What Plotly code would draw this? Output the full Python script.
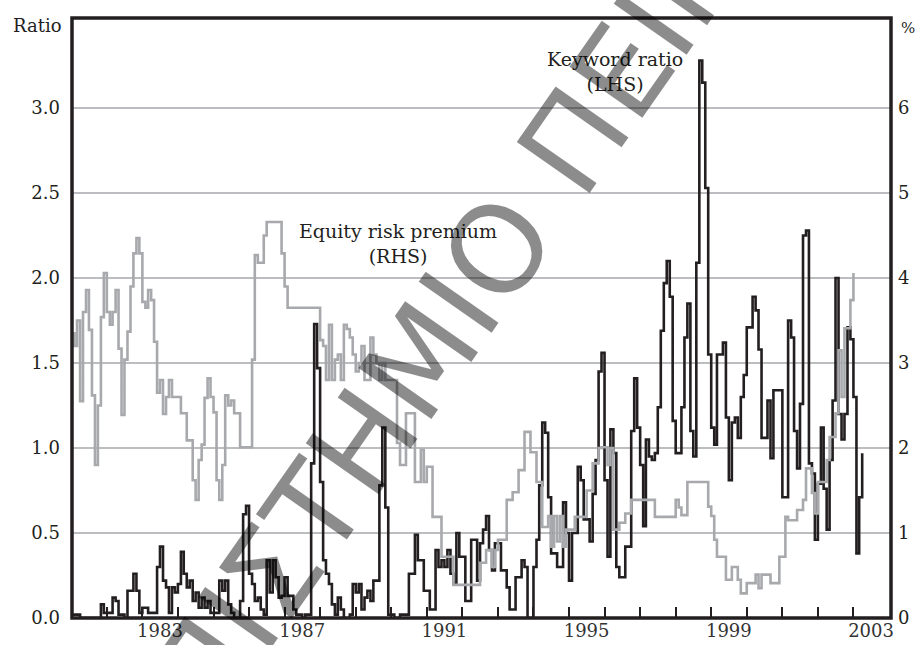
import pandas as pd
import plotly.graph_objects as go

# ---------------- data (monthly) ----------------
# Keyword ratio (LHS), Jan 1981 onwards
keyword_ratio = [
    0.02, 0.02, 0.02, 0.00, 0.00, 0.00, 0.00, 0.00, 0.00, 0.00, 0.08, 0.03,   # 1981
    0.03, 0.03, 0.12, 0.10, 0.02, 0.02, 0.00, 0.16, 0.16, 0.26, 0.16, 0.03,   # 1982
    0.06, 0.06, 0.03, 0.03, 0.03, 0.30, 0.42, 0.22, 0.18, 0.03, 0.18, 0.15,   # 1983
    0.20, 0.39, 0.26, 0.18, 0.22, 0.10, 0.15, 0.06, 0.12, 0.06, 0.10, 0.03,   # 1984
    0.03, 0.03, 0.22, 0.16, 0.22, 0.08, 0.03, 0.00, 0.00, 0.10, 0.61, 0.66,   # 1985
    0.26, 0.20, 0.10, 0.12, 0.05, 0.02, 0.34, 0.15, 0.34, 0.24, 0.12, 0.13,   # 1986
    0.24, 0.13, 0.13, 0.05, 0.02, 0.02, 0.00, 0.02, 0.02, 0.91, 1.73, 1.47,   # 1987
    0.80, 0.34, 0.26, 0.20, 0.08, 0.02, 0.12, 0.05, 0.00, 0.00, 0.02, 0.20,   # 1988
    0.15, 0.20, 0.05, 0.12, 0.16, 0.10, 0.22, 0.22, 0.78, 1.12, 0.65, 0.02,   # 1989
    0.02, 0.00, 0.00, 0.02, 0.02, 0.02, 0.26, 0.26, 0.49, 0.34, 0.34, 0.16,   # 1990
    0.16, 0.05, 0.05, 0.40, 0.30, 0.34, 0.30, 0.40, 0.26, 0.20, 0.50, 0.36,   # 1991
    0.36, 0.10, 0.10, 0.46, 0.46, 0.22, 0.44, 0.52, 0.60, 0.40, 0.28, 0.44,   # 1992
    0.44, 0.28, 0.28, 0.18, 0.05, 0.05, 0.24, 0.24, 0.34, 0.30, 0.00, 0.00,   # 1993
    0.30, 0.46, 0.78, 1.15, 1.09, 0.71, 0.38, 0.38, 0.30, 0.30, 0.68, 0.50,   # 1994
    0.22, 0.50, 0.50, 0.89, 0.81, 0.58, 0.58, 0.45, 0.73, 0.93, 1.45, 1.56,   # 1995
    0.81, 0.36, 1.11, 0.97, 0.30, 0.24, 0.24, 0.42, 0.42, 1.10, 1.41, 1.12,   # 1996
    0.90, 0.54, 1.05, 0.95, 0.93, 0.97, 1.24, 1.69, 1.97, 2.10, 1.89, 1.16,   # 1997
    0.97, 0.97, 1.24, 1.65, 1.85, 1.10, 0.95, 2.09, 3.28, 3.15, 2.53, 1.55,   # 1998
    1.12, 1.02, 1.55, 1.55, 1.62, 1.18, 0.81, 1.15, 1.18, 1.06, 1.30, 1.43,   # 1999
    1.71, 1.71, 1.89, 1.81, 1.58, 1.06, 1.06, 1.28, 0.94, 1.34, 1.34, 1.34,   # 2000
    0.71, 0.71, 1.75, 1.65, 1.10, 0.88, 1.26, 2.25, 2.28, 0.91, 0.85, 0.46,   # 2001
    0.79, 1.12, 0.76, 0.52, 0.93, 1.28, 2.00, 1.20, 1.05, 1.20, 1.71, 1.64,   # 2002
    1.30, 0.38, 0.71, 0.97,                                                   # 2003
]

# Equity risk premium (RHS, %), Jan 1981 onwards
equity_risk_premium = [
    3.35, 3.20, 3.50, 2.55, 3.60, 3.86, 3.39, 2.62, 1.80, 2.50, 3.54, 4.06,   # 1981
    3.60, 3.45, 3.60, 3.86, 3.17, 2.39, 3.04, 3.37, 3.90, 4.29, 4.47, 4.29,   # 1982
    3.72, 3.65, 3.86, 3.74, 3.25, 2.65, 2.80, 2.40, 2.60, 2.80, 2.60, 2.60,   # 1983
    2.60, 2.41, 2.41, 2.09, 2.09, 1.62, 1.39, 1.86, 2.04, 2.59, 2.82, 2.60,   # 1984
    2.42, 1.62, 1.39, 1.80, 2.62, 2.50, 2.56, 2.41, 2.41, 2.01, 2.01, 2.01,   # 1985
    2.01, 3.04, 4.27, 4.18, 4.18, 4.50, 4.66, 4.66, 4.66, 4.66, 4.66, 4.29,   # 1986
    3.90, 3.65, 3.65, 3.65, 3.65, 3.65, 3.65, 3.65, 3.65, 3.65, 3.65, 3.65,   # 1987
    3.27, 3.20, 2.80, 3.45, 2.80, 3.04, 3.10, 2.80, 3.45, 3.40, 3.30, 3.10,   # 1988
    2.90, 3.00, 3.20, 2.80, 2.80, 3.30, 3.10, 3.00, 2.80, 3.00, 2.80, 2.80,   # 1989
    2.80, 2.80, 2.06, 1.80, 1.80, 2.41, 2.41, 2.41, 1.60, 1.60, 1.98, 1.60,   # 1990
    1.78, 1.78, 1.19, 1.19, 1.19, 0.72, 0.72, 0.72, 0.72, 0.39, 0.39, 0.39,   # 1991
    0.39, 0.39, 0.39, 0.39, 0.39, 0.39, 0.65, 0.65, 0.80, 0.80, 0.60, 0.80,   # 1992
    0.92, 0.92, 0.92, 1.39, 1.39, 1.48, 1.48, 1.74, 1.74, 2.19, 2.19, 1.95,   # 1993
    1.95, 1.60, 1.60, 1.07, 1.07, 1.20, 0.84, 1.20, 0.90, 1.20, 0.84, 1.04,   # 1994
    1.04, 1.04, 1.19, 1.19, 1.19, 1.19, 1.50, 1.50, 1.82, 1.82, 2.00, 2.01,   # 1995
    2.01, 1.80, 2.00, 1.04, 1.04, 1.12, 1.12, 1.23, 1.23, 1.39, 1.39, 1.39,   # 1996
    1.39, 1.39, 1.39, 1.39, 1.39, 1.19, 1.19, 1.19, 1.19, 1.19, 1.19, 1.19,   # 1997
    1.39, 1.30, 1.21, 1.21, 1.60, 1.60, 1.60, 1.60, 1.60, 1.60, 1.60, 1.31,   # 1998
    1.20, 0.92, 0.72, 0.72, 0.72, 0.45, 0.45, 0.60, 0.60, 0.45, 0.29, 0.29,   # 1999
    0.41, 0.41, 0.41, 0.51, 0.35, 0.51, 0.51, 0.51, 0.41, 0.41, 0.41, 0.72,   # 2000
    0.72, 1.19, 1.15, 1.15, 1.15, 1.27, 1.27, 1.39, 1.76, 1.76, 1.47, 1.23,   # 2001
    1.60, 1.60, 1.60, 1.86, 2.13, 2.13, 2.41, 3.15, 2.60, 3.41, 3.41, 3.74,   # 2002
    4.06,                                                                     # 2003
]

start_month = "1981-01-01"
tick_years = list(range(1982, 2004))
label_years = [1983, 1987, 1991, 1995, 1999, 2003]
left_ticks = [0.0, 0.5, 1.0, 1.5, 2.0, 2.5, 3.0]
right_ticks = [0, 1, 2, 3, 4, 5, 6]

kw_dates = pd.date_range(start_month, periods=len(keyword_ratio), freq="MS")
eq_dates = pd.date_range(start_month, periods=len(equity_risk_premium), freq="MS")

INK = "#231f20"
GREY = "#a7a9ac"
FONT = "DejaVu Serif"
XR = ["1981-01-08", "2004-01-22"]

# plot-area geometry in pixels (for placing text in paper coordinates)
W, H = 917, 645
L, R, T, B = 72, 26, 18, 27
PW, PH = W - L - R, H - T - B


def px(x):
    return (x - L) / PW


def py(y):
    return (H - B - y) / PH


fig = go.Figure()
fig.add_trace(go.Scatter(
    x=kw_dates, y=keyword_ratio, mode="lines", name="Keyword ratio (LHS)",
    line=dict(color=INK, width=2.6, shape="hv"), xaxis="x", yaxis="y",
))
fig.add_trace(go.Scatter(
    x=eq_dates, y=equity_risk_premium, mode="lines", name="Equity risk premium (RHS)",
    line=dict(color=GREY, width=2.6, shape="hv"), xaxis="x2", yaxis="y2",
))

fig.update_layout(
    width=W, height=H,
    margin=dict(l=L, r=R, t=T, b=B, autoexpand=False),
    paper_bgcolor="white", plot_bgcolor="white",
    showlegend=False,
    font=dict(family=FONT, size=18, color=INK),
    xaxis=dict(
        type="date", range=XR, automargin=False,
        tickvals=[f"{y}-01-01" for y in tick_years],
        ticktext=["" for _ in tick_years],
        ticks="inside", ticklen=11, tickwidth=2, tickcolor=INK,
        showgrid=False, zeroline=False, showline=False,
    ),
    xaxis2=dict(
        type="date", range=XR, overlaying="x", matches="x", anchor="y",
        automargin=False,
        tickvals=[f"{y}-07-01" for y in label_years],
        ticktext=[str(y) for y in label_years],
        ticks="", showgrid=False, zeroline=False, showline=False,
        tickfont=dict(family=FONT, size=18, color="#333333"),
    ),
    yaxis=dict(
        range=[0, 3.53], automargin=False,
        tickvals=left_ticks, ticktext=[f"{v:.1f}" for v in left_ticks],
        ticks="", ticklabelstandoff=11,
        showgrid=True, gridcolor="#bcbdc0", gridwidth=2,
        zeroline=False, showline=False,
        tickfont=dict(family=FONT, size=18, color=INK),
    ),
    yaxis2=dict(
        range=[0, 7.06], overlaying="y", side="right", anchor="x",
        automargin=False,
        tickvals=right_ticks, ticktext=[str(v) for v in right_ticks],
        ticks="", ticklabelstandoff=6,
        showgrid=False, zeroline=False, showline=False,
        tickfont=dict(family=FONT, size=18, color=INK),
    ),
)

# black frame round the plot area
fig.add_shape(type="rect", xref="paper", yref="paper", x0=0, x1=1, y0=0, y1=1,
              line=dict(color=INK, width=3.5), layer="above")

# axis titles and series labels
fig.add_annotation(text="Ratio", xref="paper", yref="paper", x=px(64), y=py(26),
                   xanchor="right", yanchor="middle", showarrow=False,
                   font=dict(family=FONT, size=18, color=INK))
fig.add_annotation(text="%", xref="paper", yref="paper", x=px(899), y=py(28),
                   xanchor="left", yanchor="middle", showarrow=False,
                   font=dict(family=FONT, size=15, color=INK))
fig.add_annotation(text="Keyword ratio<br>(LHS)", xref="paper", yref="paper",
                   x=px(615), y=py(72),
                   xanchor="center", yanchor="middle", showarrow=False,
                   font=dict(family=FONT, size=19, color=INK))
fig.add_annotation(text="Equity risk premium<br>(RHS)", xref="paper", yref="paper",
                   x=px(398), y=py(243),
                   xanchor="center", yanchor="middle", showarrow=False,
                   font=dict(family=FONT, size=19, color=INK))

# scanned-document watermark
fig.add_annotation(text="ΠΑΝΕΠΙΣΤΗΜΙΟ ΠΕΙΡΑΙΩΣ", xref="paper", yref="paper",
                   x=px(427), y=py(352),
                   xanchor="center", yanchor="middle", showarrow=False,
                   textangle=-55,
                   font=dict(family="DejaVu Sans", size=122, color="rgba(0,0,0,0.45)"))

# the page's default 8px body margin would shift the 917x645 figure; remove it
fig.write_html("out.html", config={"displayModeBar": False},
               post_script="document.body.style.margin='0px';")
